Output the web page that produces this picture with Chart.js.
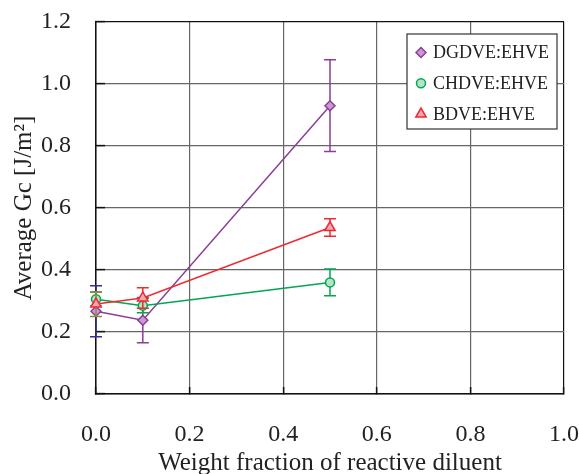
<!DOCTYPE html>
<html>
<head>
<meta charset="utf-8">
<script src="https://cdn.jsdelivr.net/npm/chart.js@4.4.1/dist/chart.umd.min.js"></script>
<style>
    html, body { margin: 0; padding: 0; background: #fff; overflow: hidden; }
</style>
</head>
<body>
<canvas id="gcChart" width="579" height="474"></canvas>
<script>
// weight fraction of reactive diluent (x)
const fractions = [0, 0.1, 0.5];

// average Gc [J/m2] and error (+/-) for each system
const dgdveGc  = [0.267, 0.238, 0.930];
const dgdveErr = [0.082, 0.073, 0.148];
const chdveGc  = [0.306, 0.285, 0.360];
const chdveErr = [0.022, 0.023, 0.043];
const bdveGc   = [0.290, 0.310, 0.537];
const bdveErr  = [0.040, 0.033, 0.028];

const xTicks = [0, 0.2, 0.4, 0.6, 0.8, 1.0];
const yTicks = [0, 0.2, 0.4, 0.6, 0.8, 1.0, 1.2];

const serif = "'Liberation Serif', 'Times New Roman', serif";

function toPoints(xs, ys) {
    return xs.map(function(x, i) { return { x: x, y: ys[i] }; });
}

// error bars, drawn just before each dataset so the markers sit on top
const errorBars = {
    id: 'errorBars',
    beforeDatasetDraw: function(chart, args) {
        const ds = chart.data.datasets[args.index];
        if (!ds.errors) return;
        const ctx = chart.ctx;
        const xs = chart.scales.x, ys = chart.scales.y;
        ctx.save();
        ctx.lineWidth = 1.5;
        ds.data.forEach(function(p, i) {
            const px = xs.getPixelForValue(p.x);
            const top = ys.getPixelForValue(p.y + ds.errors[i]);
            const bot = ys.getPixelForValue(p.y - ds.errors[i]);
            ctx.strokeStyle = ds.errorColors[i];
            ctx.beginPath();
            ctx.moveTo(px, top); ctx.lineTo(px, bot);
            ctx.moveTo(px - 6, top); ctx.lineTo(px + 6, top);
            ctx.moveTo(px - 6, bot); ctx.lineTo(px + 6, bot);
            ctx.stroke();
        });
        ctx.restore();
    }
};

// boxed legend in the top right corner of the plot
const boxLegend = {
    id: 'boxLegend',
    afterDraw: function(chart) {
        const ctx = chart.ctx;
        const area = chart.chartArea;
        const left = area.right - 157, top = area.top + 12;
        ctx.save();
        ctx.fillStyle = '#fff';
        ctx.fillRect(left, top, 150, 95);
        ctx.strokeStyle = '#333';
        ctx.lineWidth = 1.2;
        ctx.strokeRect(left, top, 150, 95);
        ctx.font = '18px ' + serif;
        ctx.textBaseline = 'middle';
        chart.data.datasets.forEach(function(ds, i) {
            const y = top + 18.5 + i * 30.8;
            ctx.fillStyle = ds.pointBackgroundColor;
            ctx.strokeStyle = ds.borderColor;
            ctx.lineWidth = 1.5;
            Chart.helpers.drawPoint(ctx, {
                pointStyle: ds.pointStyle,
                radius: ds.pointRadius,
                rotation: 0,
                borderWidth: 1.5
            }, left + 14, y);
            ctx.fillStyle = '#222';
            ctx.fillText(ds.label, left + 26, y + 1);
        });
        ctx.restore();
    }
};

const ctx = document.getElementById('gcChart').getContext('2d');

const gcChart = new Chart(ctx, {
    type: 'scatter',
    data: {
        datasets: [{
            label: 'DGDVE:EHVE',
            data: toPoints(fractions, dgdveGc),
            errors: dgdveErr,
            errorColors: ['#2e3192', '#8b3d97', '#8b3d97'],
            order: 3,
            showLine: true,
            clip: false,
            borderColor: '#8b3d97',
            borderWidth: 1.5,
            pointStyle: 'rectRot',
            pointRadius: 5,
            pointBorderWidth: 1.5,
            pointBackgroundColor: '#c99ad0'
        }, {
            label: 'CHDVE:EHVE',
            data: toPoints(fractions, chdveGc),
            errors: chdveErr,
            errorColors: ['#8c8c3c', '#00a651', '#00a651'],
            order: 2,
            showLine: true,
            clip: false,
            borderColor: '#00a651',
            borderWidth: 1.5,
            pointStyle: 'circle',
            pointRadius: 4.5,
            pointBorderWidth: 1.5,
            pointBackgroundColor: '#b6e2c6'
        }, {
            label: 'BDVE:EHVE',
            data: toPoints(fractions, bdveGc),
            errors: bdveErr,
            errorColors: ['#8c8c3c', '#ee2a2f', '#ee2a2f'],
            order: 1,
            showLine: true,
            clip: false,
            borderColor: '#ee2a2f',
            borderWidth: 1.5,
            pointStyle: 'triangle',
            pointRadius: 6,
            pointBorderWidth: 1.5,
            pointBackgroundColor: '#f2a7b8'
        }]
    },
    options: {
        responsive: false,
        animation: false,
        devicePixelRatio: 1,
        layout: { padding: { top: 22, right: 15, left: 0, bottom: 0 } },
        plugins: {
            legend: { display: false },
            tooltip: { enabled: false }
        },
        scales: {
            x: {
                type: 'linear',
                min: 0,
                max: 1,
                afterBuildTicks: function(scale) {
                    scale.ticks = xTicks.map(function(v) { return { value: v }; });
                },
                afterFit: function(scale) {
                    scale.height = 80;
                    scale.paddingLeft = 0; scale.paddingRight = 0;
                },
                ticks: {
                    callback: function(v) { return v.toFixed(1); },
                    font: { family: serif, size: 24 },
                    color: '#222',
                    padding: 33,
                    maxRotation: 0
                },
                grid: {
                    color: function(c) { return c.tick && c.tick.value === 1 ? '#111' : '#666'; },
                    lineWidth: 1.2,
                    drawTicks: true,
                    tickLength: -7,
                    tickColor: '#111',
                    tickWidth: 1.5
                },
                border: { color: '#111', width: 1.5 },
                title: {
                    display: true,
                    text: 'Weight fraction of reactive diluent',
                    font: { family: serif, size: 25 },
                    color: '#222',
                    padding: { top: 0, bottom: -4 }
                }
            },
            y: {
                type: 'linear',
                min: 0,
                max: 1.2,
                afterBuildTicks: function(scale) {
                    scale.ticks = yTicks.map(function(v) { return { value: v }; });
                },
                afterFit: function(scale) {
                    scale.width = 96;
                    scale.paddingTop = 0; scale.paddingBottom = 0;
                },
                ticks: {
                    callback: function(v) { return v.toFixed(1); },
                    font: { family: serif, size: 24 },
                    color: '#222',
                    padding: 34
                },
                grid: {
                    color: function(c) { return c.tick && c.tick.value === 1.2 ? '#111' : '#666'; },
                    lineWidth: 1.2,
                    drawTicks: true,
                    tickLength: -9,
                    tickColor: '#111',
                    tickWidth: 1.5
                },
                border: { color: '#111', width: 1.5 },
                title: {
                    display: true,
                    text: 'Average Gc [J/m²]',
                    font: { family: serif, size: 25 },
                    color: '#222',
                    padding: { top: 9, bottom: 0 }
                }
            }
        }
    },
    plugins: [errorBars, boxLegend]
});
</script>
</body>
</html>
